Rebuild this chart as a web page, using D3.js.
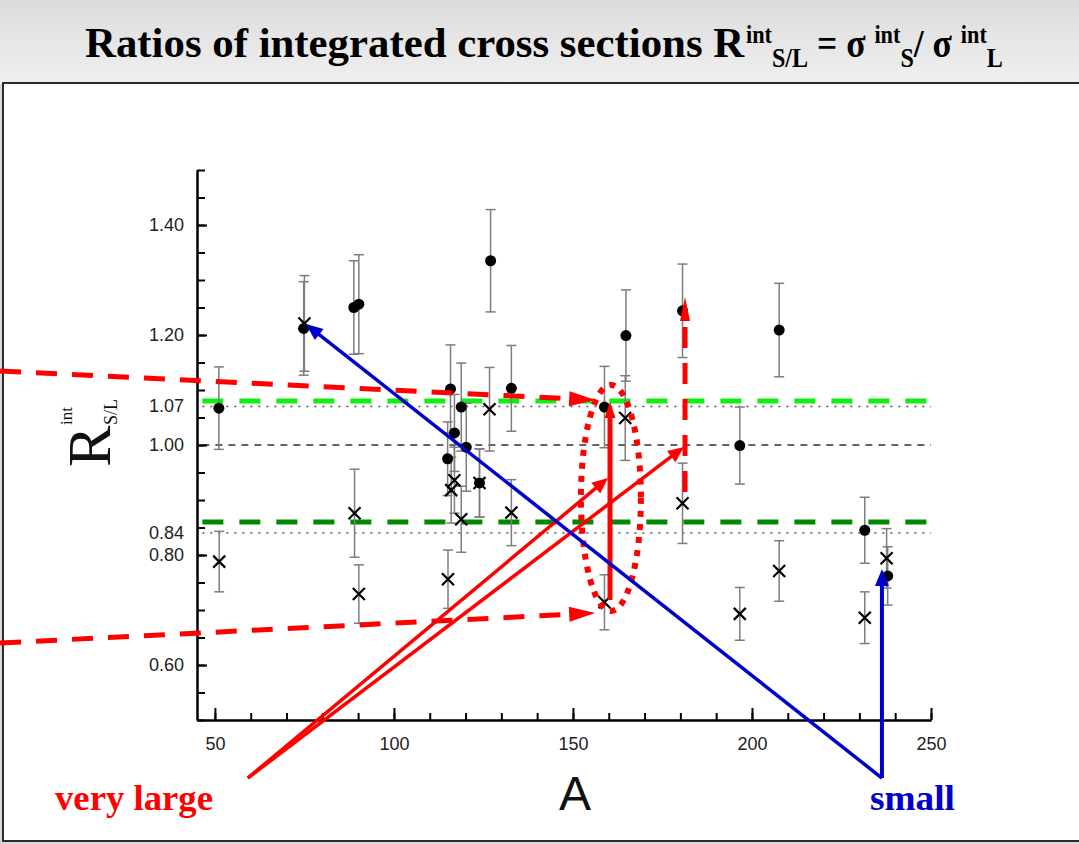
<!DOCTYPE html>
<html><head><meta charset="utf-8">
<script src="https://cdn.jsdelivr.net/npm/d3@7"></script>
<style>html,body{margin:0;padding:0;background:#e4e4e4;} svg{display:block}</style>
</head><body>
<svg id="chart" width="1079" height="844"></svg>
<script>
// ---------------- data ----------------
// filled circles: [A, R, error]
const circlePoints = [
  [51.1, 1.067, 0.075], [74.8, 1.212, 0.085], [88.8, 1.250, 0.085], [90.2, 1.256, 0.090],
  [115.0, 0.975, 0.067], [115.8, 1.102, 0.080], [116.9, 1.022, 0.070], [118.8, 1.069, 0.080],
  [120.2, 0.996, 0.080], [123.9, 0.931, 0.062], [127.0, 1.335, 0.093], [132.8, 1.103, 0.078],
  [158.8, 1.069, 0.074], [164.8, 1.199, 0.083], [180.6, 1.244, 0.085], [196.6, 0.999, 0.070],
  [207.6, 1.209, 0.085], [231.5, 0.845, 0.060], [237.9, 0.762, 0.053]
];
// crosses: [A, R, error]
const crossPoints = [
  [51.2, 0.788, 0.055], [75.0, 1.221, 0.087], [89.0, 0.876, 0.080], [90.2, 0.729, 0.053],
  [115.1, 0.756, 0.053], [116.0, 0.918, 0.060], [116.9, 0.936, 0.060], [118.8, 0.865, 0.060],
  [123.9, 0.931, 0.062], [126.7, 1.065, 0.076], [132.8, 0.877, 0.060], [158.8, 0.714, 0.050],
  [164.6, 1.049, 0.077], [180.6, 0.894, 0.073], [196.6, 0.693, 0.048], [207.6, 0.771, 0.055],
  [231.5, 0.686, 0.047], [237.6, 0.794, 0.054]
];
const xMajorTicks = [50, 100, 150, 200, 250];
const xMinorTicks = d3.range(50, 251, 10);
const yMajorTicks = [0.60, 0.80, 1.00, 1.20, 1.40];
const yMinorTicks = d3.range(0.5, 1.5001, 0.05);
const yExtraLabels = [0.84, 1.07];
// reference lines: [value, style]
const refLines = [[1.07, "dot"], [0.84, "dot"], [1.00, "dash"], [1.08, "green"], [0.86, "darkgreen"]];
// annotations in data coordinates [A0, R0, A1, R1]
const redDashedArrows = [[-10, 1.1345, 156.2, 1.082], [-10, 0.640, 156.2, 0.6945], [181.3, 0.9145, 181.3, 1.269]];
const redSolidArrows = [[160.35, 0.718, 160.35, 1.078, 5], [59.2, 0.3945, 159.8, 0.94, 3.5], [59.2, 0.3945, 181.0, 0.9964, 3.5]];
const blueArrows = [[236.3, 0.3945, 75.4, 1.22, 3.5], [236.3, 0.3945, 236.3, 0.7745, 4]];
const ellipseSpec = [160.6, 0.9036, 8.38, 0.2055];

// ---------------- layout ----------------
const svg = d3.select("#chart");
const x = d3.scaleLinear().domain([45, 250]).range([197, 931]);
const y = d3.scaleLinear().domain([0.5, 1.5]).range([720, 170]);

const defs = svg.append("defs");
const grad = defs.append("linearGradient").attr("id", "hdr").attr("x1", 0).attr("y1", 0).attr("x2", 0).attr("y2", 1);
grad.append("stop").attr("offset", "0%").attr("stop-color", "#dcdcdc");
grad.append("stop").attr("offset", "100%").attr("stop-color", "#f0f0f0");
svg.append("rect").attr("x", 0).attr("y", 0).attr("width", 1079).attr("height", 844).attr("fill", "#d8d8d8");
svg.append("rect").attr("x", 0).attr("y", 0).attr("width", 1079).attr("height", 84).attr("fill", "url(#hdr)");
svg.append("rect").attr("x", 3).attr("y", 83).attr("width", 1090).attr("height", 758)
  .attr("fill", "#fff").attr("stroke", "#2a2a2a").attr("stroke-width", 2);

// title
const serif = "'Liberation Serif','Times New Roman',Times,serif";
const sans = "'Liberation Sans',Arial,Helvetica,sans-serif";
function fit(sel, x0, baseline, width) {
  const w = sel.node().getBBox().width;
  sel.attr("transform", `translate(${x0},${baseline}) scale(${width / w},1)`);
}
const titleG = svg.append("g").attr("font-family", serif).attr("font-weight", "bold").attr("fill", "#000");
const tMain = titleG.append("text").attr("font-size", 42).text("Ratios of integrated cross sections R");
fit(tMain, 85, 57, 660);
// formula tail: [text, dy, size]
const titleTail = [
  ["int", -14, 25], ["S/L", 24, 27], [" = σ ", -10, 40],
  ["int", -14, 25], ["S", 24, 27], ["/ σ ", -10, 40],
  ["int", -14, 25], ["L", 24, 27]
];
const tTail = titleG.append("text");
titleTail.forEach(p => tTail.append("tspan").attr("dy", p[1]).attr("font-size", p[2]).text(p[0]));
fit(tTail, 746, 57, 257);

// reference lines
const refG = svg.append("g");
refLines.forEach(([v, s]) => {
  const l = refG.append("line").attr("x1", x(46.5)).attr("x2", x(250)).attr("y1", y(v)).attr("y2", y(v));
  if (s === "dot") l.attr("stroke", "#555").attr("stroke-width", 1.6).attr("stroke-dasharray", "2,6");
  if (s === "dash") l.attr("stroke", "#333").attr("stroke-width", 1.6).attr("stroke-dasharray", "7,6");
  if (s === "green") l.attr("stroke", "#11ee11").attr("stroke-width", 5).attr("stroke-dasharray", "21,16");
  if (s === "darkgreen") l.attr("stroke", "#008a00").attr("stroke-width", 5).attr("stroke-dasharray", "21,16");
});

// axes
const xAxisMinor = d3.axisBottom(x).tickValues(xMinorTicks).tickSize(-7).tickSizeOuter(0).tickFormat("");
const xAxisMajor = d3.axisBottom(x).tickValues(xMajorTicks).tickSize(-12).tickSizeOuter(0).tickPadding(17).tickFormat(d3.format("d"));
const yAxisMinor = d3.axisLeft(y).tickValues(yMinorTicks).tickSize(-8).tickSizeOuter(0).tickFormat("");
const yAxisMajor = d3.axisLeft(y).tickValues(yMajorTicks).tickSize(-10).tickSizeOuter(0).tickPadding(13).tickFormat(d3.format(".2f"));
function styleAxis(g) {
  g.selectAll("path,line").attr("stroke", "#000").attr("stroke-width", 2);
  g.selectAll("text").attr("font-family", sans).attr("font-size", 18).attr("fill", "#222");
}
svg.append("g").attr("transform", `translate(0,${y(0.5)})`).call(xAxisMinor).call(styleAxis);
svg.append("g").attr("transform", `translate(0,${y(0.5)})`).call(xAxisMajor).call(styleAxis);
svg.append("g").attr("transform", `translate(${x(45)},0)`).call(yAxisMinor).call(styleAxis);
svg.append("g").attr("transform", `translate(${x(45)},0)`).call(yAxisMajor).call(styleAxis);
svg.append("g").selectAll("text").data(yExtraLabels).join("text")
  .attr("x", x(45) - 13).attr("y", d => y(d)).attr("dy", "0.32em").attr("text-anchor", "end")
  .attr("font-family", sans).attr("font-size", 18).attr("fill", "#222").text(d3.format(".2f"));

// axis titles
svg.append("text").attr("x", 575).attr("y", 810).attr("text-anchor", "middle")
  .attr("font-family", sans).attr("font-size", 48).attr("fill", "#111").text("A");
const yl = svg.append("g").attr("transform", "translate(110,467) rotate(-90)");
yl.append("text").attr("x", 0).attr("y", 0).attr("font-family", serif).attr("font-size", 62).attr("fill", "#111").text("R");
yl.append("text").attr("x", 42).attr("y", -38).attr("font-family", serif).attr("font-size", 17).attr("fill", "#111").text("int");
yl.append("text").attr("x", 42).attr("y", 7).attr("font-family", serif).attr("font-size", 18).attr("fill", "#111").text("S/L");

// error bars
const allPts = circlePoints.concat(crossPoints);
const eb = svg.append("g").attr("stroke", "#7d7d7d").attr("stroke-width", 1.5);
allPts.forEach(([a, r, e]) => {
  eb.append("line").attr("x1", x(a)).attr("x2", x(a)).attr("y1", y(r - e)).attr("y2", y(r + e));
  eb.append("line").attr("x1", x(a) - 5).attr("x2", x(a) + 5).attr("y1", y(r - e)).attr("y2", y(r - e));
  eb.append("line").attr("x1", x(a) - 5).attr("x2", x(a) + 5).attr("y1", y(r + e)).attr("y2", y(r + e));
});
// circles
svg.append("g").selectAll("circle").data(circlePoints).join("circle")
  .attr("cx", d => x(d[0])).attr("cy", d => y(d[1])).attr("r", 5.5).attr("fill", "#000");
// crosses
svg.append("g").selectAll("path").data(crossPoints).join("path")
  .attr("d", d => { const cx = x(d[0]), cy = y(d[1]), s = 6;
    return `M${cx - s},${cy - s}L${cx + s},${cy + s}M${cx - s},${cy + s}L${cx + s},${cy - s}`; })
  .attr("stroke", "#000").attr("stroke-width", 2.2).attr("fill", "none");

// annotations
const ann = svg.append("g");
function arrow(a0, r0, a1, r1, color, width, dash, headLen, headW) {
  const x1 = x(a0), y1 = y(r0), x2 = x(a1), y2 = y(r1);
  const ang = Math.atan2(y2 - y1, x2 - x1), c = Math.cos(ang), s = Math.sin(ang);
  const bx = x2 - headLen * c, by = y2 - headLen * s;
  const l = ann.append("line").attr("x1", x1).attr("y1", y1)
    .attr("x2", x2 - (headLen - 2) * c).attr("y2", y2 - (headLen - 2) * s)
    .attr("stroke", color).attr("stroke-width", width);
  if (dash) l.attr("stroke-dasharray", dash);
  ann.append("path").attr("d", `M${x2},${y2}L${bx + headW * s},${by - headW * c}L${bx - headW * s},${by + headW * c}Z`)
    .attr("fill", color);
}
ann.append("ellipse").attr("cx", x(ellipseSpec[0])).attr("cy", y(ellipseSpec[1]))
  .attr("rx", x(ellipseSpec[0] + ellipseSpec[2]) - x(ellipseSpec[0]))
  .attr("ry", y(ellipseSpec[1] - ellipseSpec[3]) - y(ellipseSpec[1]))
  .attr("fill", "none").attr("stroke", "#ff0000").attr("stroke-width", 6).attr("stroke-dasharray", "6,7");
redDashedArrows.forEach((d, i) => arrow(d[0], d[1], d[2], d[3], "#ff0000", 5, "21,15", i === 2 ? 24 : 26, i === 2 ? 5 : 7.5));
redSolidArrows.forEach(d => arrow(d[0], d[1], d[2], d[3], "#ff0000", d[4], null, 16, d[4] === 5 ? 5.5 : 7));
blueArrows.forEach(d => arrow(d[0], d[1], d[2], d[3], "#0000cc", d[4], null, 17, 7));

// annotation texts
const vl = svg.append("text").attr("font-family", serif).attr("font-weight", "bold").attr("font-size", 36)
  .attr("fill", "#ff0000").text("very large");
fit(vl, 55, 810, 158);
const sm = svg.append("text").attr("font-family", serif).attr("font-weight", "bold").attr("font-size", 36)
  .attr("fill", "#0000cc").text("small");
fit(sm, 870, 810, 85);
</script>
</body></html>
